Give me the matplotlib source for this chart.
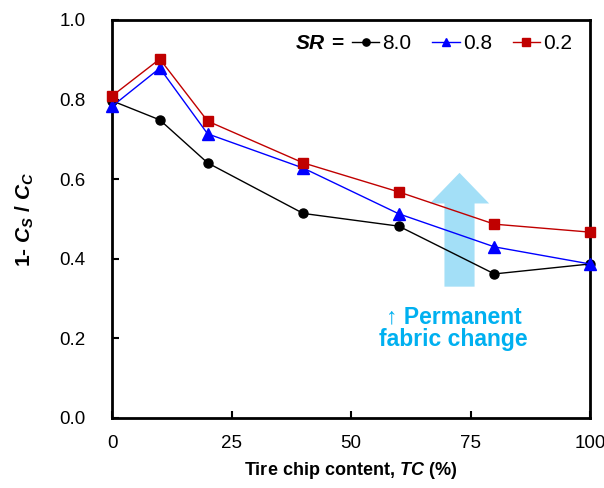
import matplotlib
matplotlib.use("Agg")
import matplotlib.pyplot as plt
from matplotlib.patches import FancyArrow

plt.rcParams['font.family'] = ['Liberation Sans', 'DejaVu Sans']
plt.rcParams['mathtext.fontset'] = 'custom'
plt.rcParams['mathtext.bfit'] = 'Liberation Sans:bold:italic'
plt.rcParams['mathtext.bf'] = 'Liberation Sans:bold'

tc = [0, 10, 20, 40, 60, 80, 100]
sr_labels = ['8.0', '0.8', '0.2']
sr80 = [0.797, 0.749, 0.641, 0.514, 0.482, 0.362, 0.387]
sr08 = [0.783, 0.879, 0.714, 0.628, 0.513, 0.430, 0.387]
sr02 = [0.809, 0.902, 0.746, 0.641, 0.568, 0.487, 0.467]
xticks = [0, 25, 50, 75, 100]
yticks = [0.0, 0.2, 0.4, 0.6, 0.8, 1.0]

fig = plt.figure(figsize=(6.04, 4.88), dpi=100)
ax = fig.add_axes([112/604, 1-418/488, (590-112)/604, (418-20)/488])

ax.add_patch(FancyArrow(72.7, 0.33, 0, 0.286, width=6.3, head_width=12.4,
                        head_length=0.077, length_includes_head=True,
                        color='#A3DFF7', lw=0, zorder=1))
ax.text(71.5, 0.283, '↑ Permanent\nfabric change', color='#00B0F0', fontsize=16.5,
        fontweight='bold', ha='center', va='top', linespacing=1.0, zorder=3)

l1, = ax.plot(tc, sr80, color='black', marker='o', ms=6.5, lw=1, zorder=4, clip_on=False)
l2, = ax.plot(tc, sr08, color='#0000FF', marker='^', ms=8, lw=1, zorder=5, clip_on=False)
l3, = ax.plot(tc, sr02, color='#C00000', marker='s', ms=7, lw=1, zorder=6, clip_on=False)

ax.set_xlim(0, 100)
ax.set_ylim(0, 1.0)
ax.set_xticks(xticks)
ax.set_yticks(yticks)
ax.set_yticklabels([f'{v:.1f}' for v in yticks])
ax.tick_params(direction='in', length=5, width=1.5, labelsize=13.5)
ax.tick_params(axis='y', pad=19)
ax.tick_params(axis='x', pad=12)
for s in ax.spines.values():
    s.set_linewidth(2)

ax.set_xlabel('Tire chip content, $\\mathbfit{TC}$ (%)', fontsize=13, fontweight='bold', labelpad=6)
ax.set_ylabel('1- $\\mathbfit{C}_\\mathbfit{S}$ / $\\mathbfit{C}_\\mathbfit{C}$', fontsize=15, fontweight='bold', labelpad=17)

leg = ax.legend([l1, l2, l3], sr_labels, loc='center right', ncol=3, frameon=False,
                fontsize=15, handlelength=1.3, handletextpad=0.15, columnspacing=1.0,
                markerscale=0.8, bbox_to_anchor=(0.962, 0.94), borderaxespad=0, borderpad=0)
ax.text(0.383, 0.94, '$\\mathbfit{SR}$$\\mathbf{\\,=}$', transform=ax.transAxes, fontsize=15,
        ha='left', va='center')

fig.savefig('out.png', dpi=100)
